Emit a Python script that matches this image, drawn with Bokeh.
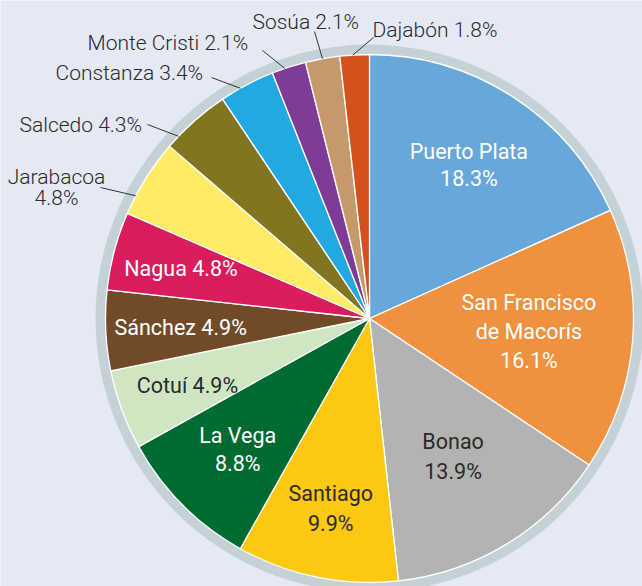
import math
import re
from bokeh.plotting import figure
from bokeh.models import Range1d
from bokeh.core.properties import value
from bokeh.embed import file_html
from bokeh.resources import INLINE

# ---------------- data ----------------
names = ["Puerto Plata", "San Francisco de Macorís", "Bonao", "Santiago", "La Vega",
         "Cotuí", "Sánchez", "Nagua", "Jarabacoa", "Salcedo", "Constanza",
         "Monte Cristi", "Sosúa", "Dajabón"]
shares = [18.3, 16.1, 13.9, 9.9, 8.8, 4.9, 4.9, 4.8, 4.8, 4.3, 3.4, 2.1, 2.1, 1.8]
colors = ["#67a7da", "#f0913f", "#b3b3b3", "#fcc811", "#006a33", "#d0e6c3", "#714b28",
          "#da1c5c", "#ffeb65", "#827521", "#23a9e1", "#7e3c96", "#c49a6c", "#d4511e"]

# ---------------- layout ----------------
W, H = 642, 586
BG = "#e4e9f4"
RING = "#c4d2d8"
CX, CY_PX = 369, 318          # pie centre (pixels from top-left)
R = 264                        # pie radius
RING_W = 10
FONT_IN = "Roboto"
FONT_OUT = "'Roboto Light', Roboto"
FS_IN = "21.5px"
FS_OUT = "21px"
DARK = "#2b2b2b"

def Y(py):
    return H - py

CY = Y(CY_PX)

# inside labels: name -> (text lines, radius from centre, colour, line spacing)
inside = {
    "Puerto Plata": (["Puerto Plata"], 183, "white", 27),
    "San Francisco de Macorís": (["San Francisco", "de Macorís"], 160, "white", 29),
    "Bonao": (["Bonao"], 161, DARK, 30),
    "Santiago": (["Santiago"], 194, DARK, 30),
    "La Vega": (["La Vega"], 186, "white", 28),
    "Cotuí": (["Cotuí"], 194, DARK, 0),
    "Sánchez": (["Sánchez"], 189, "white", 0),
    "Nagua": (["Nagua"], 195, "white", 0),
}
single_line_inside = {"Cotuí", "Sánchez", "Nagua"}

# outside labels: name -> (text x, text y (px), align, stacked?, line start x, y (px), angle nudge deg)
outside = {
    "Sosúa": (252, 21, "left", False, 314, 31, 0.0),
    "Dajabón": (372, 29, "left", False, 373, 37, 0.4),
    "Monte Cristi": (87, 42, "left", False, 262, 50, 0.9),
    "Constanza": (55, 72, "left", False, 211, 77, 1.6),
    "Salcedo": (19, 124, "left", False, 147, 124, 4.8),
    "Jarabacoa": (56, 176, "center", True, 100, 187, 4.4),
}

# ---------------- figure ----------------
p = figure(width=W, height=H, output_backend="svg", toolbar_location=None,
           x_range=Range1d(0, W), y_range=Range1d(0, H), min_border=0)
p.axis.visible = False
p.grid.visible = False
p.outline_line_color = None
p.background_fill_color = BG
p.border_fill_color = BG

# ring around the pie
p.annulus(x=CX, y=CY, inner_radius=R - 1, outer_radius=R + RING_W, fill_color=RING,
          line_color=None)

total = sum(shares)
starts, ends, mids = [], [], []
cum = 0.0
for v in shares:
    s = math.pi / 2 - 2 * math.pi * cum / total
    e = s - 2 * math.pi * v / total
    starts.append(s)
    ends.append(e)
    mids.append((s + e) / 2)
    cum += v

p.wedge(x=CX, y=CY, radius=R, start_angle=starts, end_angle=ends, direction="clock",
        fill_color=colors, line_color="white", line_width=1.3)

groups = {}  # (align, colour, font, size) -> lists

def add_text(x, y, t, align, col, font, fs):
    g = groups.setdefault((align, col, font, fs), {"x": [], "y": [], "t": []})
    g["x"].append(x)
    g["y"].append(y)
    g["t"].append(t)

for i, n in enumerate(names):
    pct = f"{shares[i]:.1f}%"
    if n in inside:
        lines, rr, col, sp = inside[n]
        tx = CX + rr * math.cos(mids[i])
        ty = CY + rr * math.sin(mids[i])
        if n in single_line_inside:
            add_text(tx, ty, f"{lines[0]} {pct}", "center", col, FONT_IN, FS_IN)
        else:
            all_lines = lines + [pct]
            k = len(all_lines)
            for j, t in enumerate(all_lines):
                add_text(tx, ty + (k - 1) / 2 * sp - j * sp, t, "center", col, FONT_IN, FS_IN)
    elif n in outside:
        lx, ly, al, stacked, sx, sy, nudge = outside[n]
        if stacked:
            add_text(lx, Y(ly), n, al, DARK, FONT_OUT, FS_OUT)
            add_text(lx, Y(ly + 21), pct, al, DARK, FONT_OUT, FS_OUT)
        else:
            add_text(lx, Y(ly), f"{n} {pct}", al, DARK, FONT_OUT, FS_OUT)
        a = mids[i] + math.radians(nudge)
        ex = CX + R * math.cos(a)
        ey = CY + R * math.sin(a)
        p.segment(x0=[sx], y0=[Y(sy)], x1=[ex], y1=[ey], line_color="#333333", line_width=1)

for (al, col, font, fs), g in groups.items():
    p.text(x=g["x"], y=g["y"], text=g["t"], text_align=al, text_baseline="middle",
           text_color=col, text_font=value(font), text_font_size=fs)

html = file_html(p, INLINE)
html = re.sub(r"<body[^>]*>", f'<body style="margin:0;background:{BG};overflow:hidden">', html, count=1)
open("out.html", "w").write(html)
